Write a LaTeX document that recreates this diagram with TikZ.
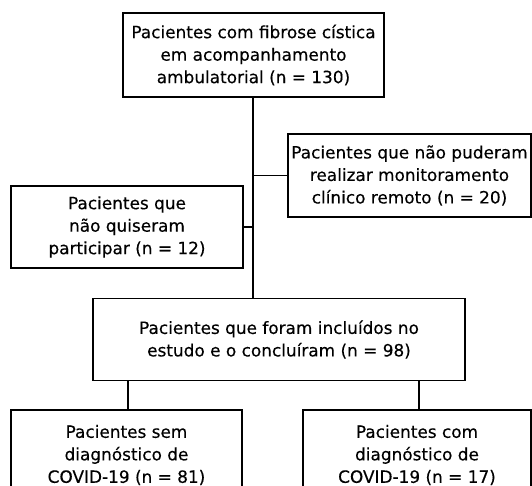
\documentclass[tikz,border=0pt]{standalone}
\usepackage{fontspec}
\setmainfont{DejaVu Sans}[FakeBold=0.3]
\begin{document}
\begin{tikzpicture}[x=1pt,y=-1pt,
  boxnode/.style={draw=black,line width=1.4pt,fill=white,align=center,inner sep=0pt,
    font=\fontsize{16.9}{22.5}\selectfont,text=black},
  conn/.style={draw=black,line width=1.4pt}]
\useasboundingbox (0,0) rectangle (532,486);
\clip (0,0) rectangle (532,486);
\node[boxnode,minimum width=261pt,minimum height=84pt] (top) at (253.5,55) {Pacientes com fibrose cística\\em acompanhamento\\ambulatorial (n = 130)};
\node[boxnode,minimum width=243pt,minimum height=83pt] (remote) at (409.5,175.5) {Pacientes que não puderam\\realizar monitoramento\\clínico remoto (n = 20)};
\node[boxnode,minimum width=232pt,minimum height=82pt] (refuse) at (127,227) {Pacientes que\\não quiseram\\participar (n = 12)};
\node[boxnode,minimum width=372pt,minimum height=82pt] (incl) at (279,339.5) {Pacientes que foram incluídos no\\estudo e o concluíram (n = 98)};
\node[boxnode,minimum width=231pt,minimum height=90pt] (neg) at (126.5,455) {Pacientes sem\\diagnóstico de\\COVID-19 (n = 81)};
\node[boxnode,minimum width=228pt,minimum height=90pt] (pos) at (417,455) {Pacientes com\\diagnóstico de\\COVID-19 (n = 17)};
\coordinate (jr) at (253,175.5);
\coordinate (jl) at (253,227);
\draw[conn] (top.south -| jr) -- (incl.north -| jr);
\draw[conn] (jr) -- (remote.west);
\draw[conn] (jl) -- (refuse.east);
\draw[conn] (incl.south -| neg.north) ++(1.5,0) coordinate (dl) -- (dl |- neg.north);
\draw[conn] (incl.south -| pos.north) ++(2,0) coordinate (dr) -- (dr |- pos.north);
\end{tikzpicture}
\end{document}
